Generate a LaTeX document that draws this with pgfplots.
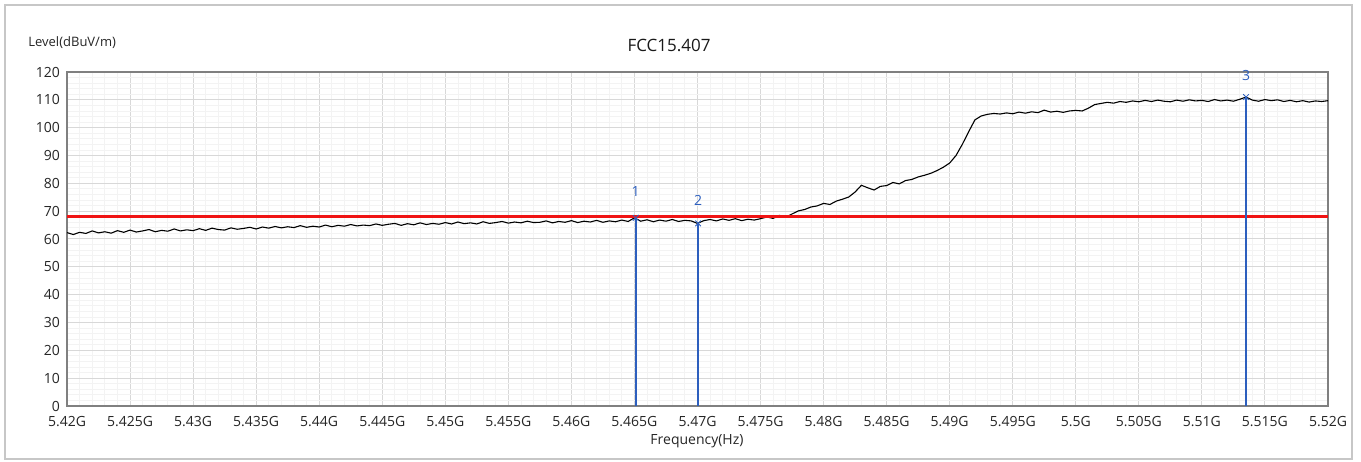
\documentclass[border=0pt]{standalone}
\usepackage{fontspec}
\setmainfont{Open Sans}
\usepackage{pgfplots}
\pgfplotsset{compat=1.18}
\definecolor{mkblue}{RGB}{45,95,190}
\definecolor{gridmaj}{RGB}{216,216,216}
\definecolor{gridmin}{RGB}{243,243,243}
\definecolor{limred}{RGB}{240,20,20}

\begin{document}
\begin{tikzpicture}
\useasboundingbox (-33.5pt,-27.5pt) rectangle (647pt,203pt);
\draw[black!22, line width=1.2pt, fill=white] (-31pt,-26.5pt) rectangle (642.5pt,200.5pt);

\begin{axis}[
  scale only axis, width=630.5pt, height=167pt,
  xmin=5420, xmax=5520, ymin=0, ymax=120,
  xtick={5420,5425,...,5520},
  xticklabels={5.42G,5.425G,5.43G,5.435G,5.44G,5.445G,5.45G,5.455G,5.46G,5.465G,5.47G,5.475G,5.48G,5.485G,5.49G,5.495G,5.5G,5.505G,5.51G,5.515G,5.52G},
  ytick={0,10,...,120},
  minor x tick num=4, minor y tick num=4,
  grid=both,
  major grid style={gridmaj, line width=0.5pt},
  minor grid style={gridmin, line width=0.4pt},
  major tick length=0pt, minor tick length=0pt,
  axis line style={draw=black!50, line width=0.8pt},
  tick label style={font=\fontsize{7}{8}\selectfont, text=black!85},
  xticklabel style={yshift=-1.5pt},
  /pgf/number format/assume math mode=true,
  clip=false,
]
% measured trace
\addplot[black, line width=0.55pt] table {
x y
5420.0 62.3
5420.5 61.6
5421.0 62.4
5421.5 62.0
5422.0 62.9
5422.5 62.2
5423.0 62.6
5423.5 62.1
5424.0 63.0
5424.5 62.4
5425.0 63.2
5425.5 62.5
5426.0 62.9
5426.5 63.4
5427.0 62.6
5427.5 63.1
5428.0 62.8
5428.5 63.6
5429.0 62.9
5429.5 63.3
5430.0 63.0
5430.5 63.7
5431.0 63.1
5431.5 63.9
5432.0 63.4
5432.5 63.2
5433.0 64.0
5433.5 63.5
5434.0 63.8
5434.5 64.2
5435.0 63.6
5435.5 64.3
5436.0 63.9
5436.5 64.5
5437.0 64.0
5437.5 64.4
5438.0 64.1
5438.5 64.8
5439.0 64.2
5439.5 64.6
5440.0 64.3
5440.5 65.0
5441.0 64.4
5441.5 64.9
5442.0 64.6
5442.5 65.2
5443.0 64.7
5443.5 65.0
5444.0 64.8
5444.5 65.4
5445.0 64.9
5445.5 65.3
5446.0 65.6
5446.5 64.9
5447.0 65.5
5447.5 65.1
5448.0 65.8
5448.5 65.2
5449.0 65.6
5449.5 65.3
5450.0 65.9
5450.5 65.4
5451.0 66.1
5451.5 65.5
5452.0 65.8
5452.5 65.4
5453.0 66.2
5453.5 65.6
5454.0 65.9
5454.5 66.3
5455.0 65.7
5455.5 66.1
5456.0 65.8
5456.5 66.4
5457.0 65.9
5457.5 66.0
5458.0 66.5
5458.5 65.8
5459.0 66.3
5459.5 66.0
5460.0 66.6
5460.5 65.9
5461.0 66.4
5461.5 66.1
5462.0 66.7
5462.5 66.0
5463.0 66.5
5463.5 66.2
5464.0 66.8
5464.5 66.3
5465.0 67.6
5465.5 66.4
5466.0 66.9
5466.5 66.2
5467.0 66.8
5467.5 66.4
5468.0 67.0
5468.5 66.3
5469.0 66.7
5469.5 66.5
5470.0 65.6
5470.5 66.6
5471.0 67.0
5471.5 66.5
5472.0 67.2
5472.5 66.7
5473.0 67.3
5473.5 66.6
5474.0 67.1
5474.5 66.8
5475.0 67.3
5475.5 67.9
5476.0 67.4
5476.5 68.5
5477.0 67.8
5477.5 69.0
5478.0 70.1
5478.5 70.6
5479.0 71.5
5479.5 71.9
5480.0 72.8
5480.5 72.4
5481.0 73.6
5481.5 74.3
5482.0 75.1
5482.5 76.9
5483.0 79.3
5483.5 78.4
5484.0 77.6
5484.5 78.9
5485.0 79.2
5485.5 80.3
5486.0 79.8
5486.5 81.0
5487.0 81.4
5487.5 82.3
5488.0 82.9
5488.5 83.6
5489.0 84.6
5489.5 85.8
5490.0 87.3
5490.5 90.0
5491.0 94.0
5491.5 98.5
5492.0 102.8
5492.5 104.2
5493.0 104.8
5493.5 105.1
5494.0 104.9
5494.5 105.3
5495.0 105.0
5495.5 105.6
5496.0 105.2
5496.5 105.7
5497.0 105.4
5497.5 106.3
5498.0 105.6
5498.5 105.9
5499.0 105.5
5499.5 106.0
5500.0 106.2
5500.5 106.0
5501.0 107.0
5501.5 108.3
5502.0 108.7
5502.5 109.1
5503.0 108.8
5503.5 109.4
5504.0 109.1
5504.5 109.6
5505.0 109.3
5505.5 109.8
5506.0 109.4
5506.5 109.9
5507.0 109.5
5507.5 109.3
5508.0 109.9
5508.5 109.5
5509.0 110.0
5509.5 109.6
5510.0 109.8
5510.5 109.4
5511.0 110.1
5511.5 109.6
5512.0 109.9
5512.5 109.5
5513.0 110.2
5513.5 111.0
5514.0 109.9
5514.5 109.5
5515.0 110.1
5515.5 109.7
5516.0 110.0
5516.5 109.4
5517.0 109.8
5517.5 109.3
5518.0 109.7
5518.5 109.2
5519.0 109.6
5519.5 109.4
5520.0 109.7
};
% limit line
\addplot[limred, line width=1.5pt] coordinates {(5420,68.2) (5520,68.2)};
% markers
\addplot[mkblue, line width=0.9pt] coordinates {(5465.1,0) (5465.1,67.6)};
\addplot[mkblue, line width=0.9pt] coordinates {(5470.05,0) (5470.05,65.6)};
\addplot[mkblue, line width=0.9pt] coordinates {(5513.5,0) (5513.5,111.0)};
\addplot[mkblue, only marks, mark=x, mark size=2pt] coordinates {(5465.1,67.6) (5470.05,65.6) (5513.5,111.0)};
\node[mkblue, font=\fontsize{7}{8}\selectfont] at (axis cs:5465.1,76.9) {1};
\node[mkblue, font=\fontsize{7}{8}\selectfont] at (axis cs:5470.05,74.0) {2};
\node[mkblue, font=\fontsize{7}{8}\selectfont] at (axis cs:5513.5,118.9) {3};
\end{axis}

\node[font=\fontsize{8.5}{10}\selectfont, text=black!90] at (301pt,180.5pt) {FCC15.407};
\node[anchor=west, inner sep=0pt, font=\fontsize{6.5}{8}\selectfont, text=black!85] at (-19.5pt,181.5pt) {Level(dBuV/m)};
\node[font=\fontsize{7}{8}\selectfont, text=black!85] at (315pt,-17.5pt) {Frequency(Hz)};
\end{tikzpicture}
\end{document}
